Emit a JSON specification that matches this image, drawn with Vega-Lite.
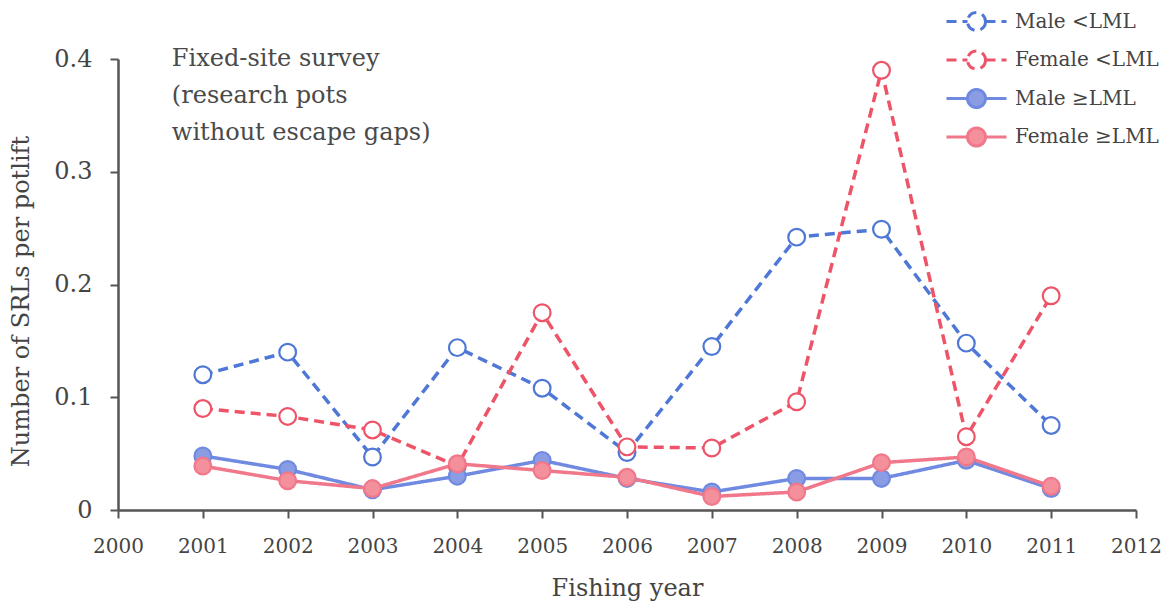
{
  "$schema": "https://vega.github.io/schema/vega-lite/v6.json",
  "autosize": "none",
  "width": 1018,
  "height": 451,
  "padding": {"left": 118, "top": 59, "right": 39, "bottom": 102},
  "background": "white",
  "config": {
    "view": {"stroke": null},
    "font": "DejaVu Serif",
    "axis": {
      "labelFont": "DejaVu Serif",
      "titleFont": "DejaVu Serif",
      "labelColor": "#444",
      "titleColor": "#444",
      "domainColor": "#555",
      "tickColor": "#555",
      "domainWidth": 2.5,
      "tickWidth": 2,
      "tickSize": 8,
      "grid": false,
      "titleFontWeight": "normal"
    }
  },
  "data": {
    "values": [
      {"year": 2001, "series": "Male <LML", "value": 0.120},
      {"year": 2002, "series": "Male <LML", "value": 0.140},
      {"year": 2003, "series": "Male <LML", "value": 0.047},
      {"year": 2004, "series": "Male <LML", "value": 0.144},
      {"year": 2005, "series": "Male <LML", "value": 0.108},
      {"year": 2006, "series": "Male <LML", "value": 0.051},
      {"year": 2007, "series": "Male <LML", "value": 0.145},
      {"year": 2008, "series": "Male <LML", "value": 0.242},
      {"year": 2009, "series": "Male <LML", "value": 0.249},
      {"year": 2010, "series": "Male <LML", "value": 0.148},
      {"year": 2011, "series": "Male <LML", "value": 0.075},
      {"year": 2001, "series": "Female <LML", "value": 0.090},
      {"year": 2002, "series": "Female <LML", "value": 0.083},
      {"year": 2003, "series": "Female <LML", "value": 0.071},
      {"year": 2004, "series": "Female <LML", "value": 0.039},
      {"year": 2005, "series": "Female <LML", "value": 0.175},
      {"year": 2006, "series": "Female <LML", "value": 0.056},
      {"year": 2007, "series": "Female <LML", "value": 0.055},
      {"year": 2008, "series": "Female <LML", "value": 0.096},
      {"year": 2009, "series": "Female <LML", "value": 0.390},
      {"year": 2010, "series": "Female <LML", "value": 0.065},
      {"year": 2011, "series": "Female <LML", "value": 0.190},
      {"year": 2001, "series": "Male ≥LML", "value": 0.048},
      {"year": 2002, "series": "Male ≥LML", "value": 0.036},
      {"year": 2003, "series": "Male ≥LML", "value": 0.018},
      {"year": 2004, "series": "Male ≥LML", "value": 0.030},
      {"year": 2005, "series": "Male ≥LML", "value": 0.044},
      {"year": 2006, "series": "Male ≥LML", "value": 0.028},
      {"year": 2007, "series": "Male ≥LML", "value": 0.016},
      {"year": 2008, "series": "Male ≥LML", "value": 0.028},
      {"year": 2009, "series": "Male ≥LML", "value": 0.028},
      {"year": 2010, "series": "Male ≥LML", "value": 0.044},
      {"year": 2011, "series": "Male ≥LML", "value": 0.019},
      {"year": 2001, "series": "Female ≥LML", "value": 0.039},
      {"year": 2002, "series": "Female ≥LML", "value": 0.026},
      {"year": 2003, "series": "Female ≥LML", "value": 0.019},
      {"year": 2004, "series": "Female ≥LML", "value": 0.041},
      {"year": 2005, "series": "Female ≥LML", "value": 0.035},
      {"year": 2006, "series": "Female ≥LML", "value": 0.029},
      {"year": 2007, "series": "Female ≥LML", "value": 0.012},
      {"year": 2008, "series": "Female ≥LML", "value": 0.016},
      {"year": 2009, "series": "Female ≥LML", "value": 0.042},
      {"year": 2010, "series": "Female ≥LML", "value": 0.047},
      {"year": 2011, "series": "Female ≥LML", "value": 0.021}
    ]
  },
  "encoding": {
    "x": {
      "field": "year",
      "type": "quantitative",
      "scale": {"domain": [2000, 2012], "nice": false, "zero": false},
      "axis": {
        "title": "Fishing year",
        "values": [2000, 2001, 2002, 2003, 2004, 2005, 2006, 2007, 2008, 2009, 2010, 2011, 2012],
        "format": "d",
        "labelFontSize": 20,
        "labelPadding": 18,
        "titleFontSize": 24,
        "titlePadding": 20,
        "labelFlush": false,
        "labelOverlap": false
      }
    },
    "y": {
      "field": "value",
      "type": "quantitative",
      "scale": {"domain": [0, 0.4], "nice": false},
      "axis": {
        "title": "Number of SRLs per potlift",
        "values": [0, 0.1, 0.2, 0.3, 0.4],
        "format": "~g",
        "labelFontSize": 24,
        "labelPadding": 18,
        "titleFontSize": 24,
        "titlePadding": 20,
        "titleY": 242
      }
    }
  },
  "layer": [
    {
      "mark": {"type": "line", "strokeWidth": 3.5},
      "encoding": {
        "color": {
          "field": "series",
          "type": "nominal",
          "scale": {
            "domain": ["Male <LML", "Female <LML", "Male ≥LML", "Female ≥LML"],
            "range": ["#4f78d6", "#ee5468", "#6f8ae0", "#f0788a"]
          },
          "legend": {
            "title": null,
            "orient": "none",
            "legendX": 837,
            "legendY": -59,
            "padding": 0,
            "symbolType": "M-1.5,0H-0.45M0.45,0H1.5M0.45,0A0.45,0.45,0,1,1,-0.45,0A0.45,0.45,0,1,1,0.45,0",
            "symbolSize": 1600,
            "symbolStrokeWidth": 3,
            "rowPadding": 1.5,
            "labelOffset": 17,
            "labelFontSize": 20,
            "labelFont": "DejaVu Serif",
            "labelColor": "#444"
          }
        },
        "strokeDash": {
          "field": "series",
          "type": "nominal",
          "scale": {
            "domain": ["Male <LML", "Female <LML", "Male ≥LML", "Female ≥LML"],
            "range": [[10, 6], [10, 6], [1, 0], [1, 0]]
          }
        }
      }
    },
    {
      "mark": {"type": "point", "shape": "circle", "size": 280, "strokeWidth": 2.2, "opacity": 1},
      "encoding": {
        "color": {"field": "series", "type": "nominal"},
        "fill": {
          "field": "series",
          "type": "nominal",
          "scale": {
            "domain": ["Male <LML", "Female <LML", "Male ≥LML", "Female ≥LML"],
            "range": ["white", "white", "#8a9ce4", "#f4909c"]
          }
        }
      }
    },
    {
      "transform": [{"filter": "datum.year == 2001 && datum.series == 'Male <LML'"}],
      "mark": {
        "type": "text",
        "text": ["Fixed-site survey", "(research pots", "without escape gaps)"],
        "align": "left",
        "baseline": "alphabetic",
        "font": "DejaVu Serif",
        "fontSize": 24,
        "lineHeight": 37,
        "color": "#4a4a4a"
      },
      "encoding": {
        "x": {"datum": 2000.635},
        "y": {"datum": 0.3938}
      }
    }
  ]
}
